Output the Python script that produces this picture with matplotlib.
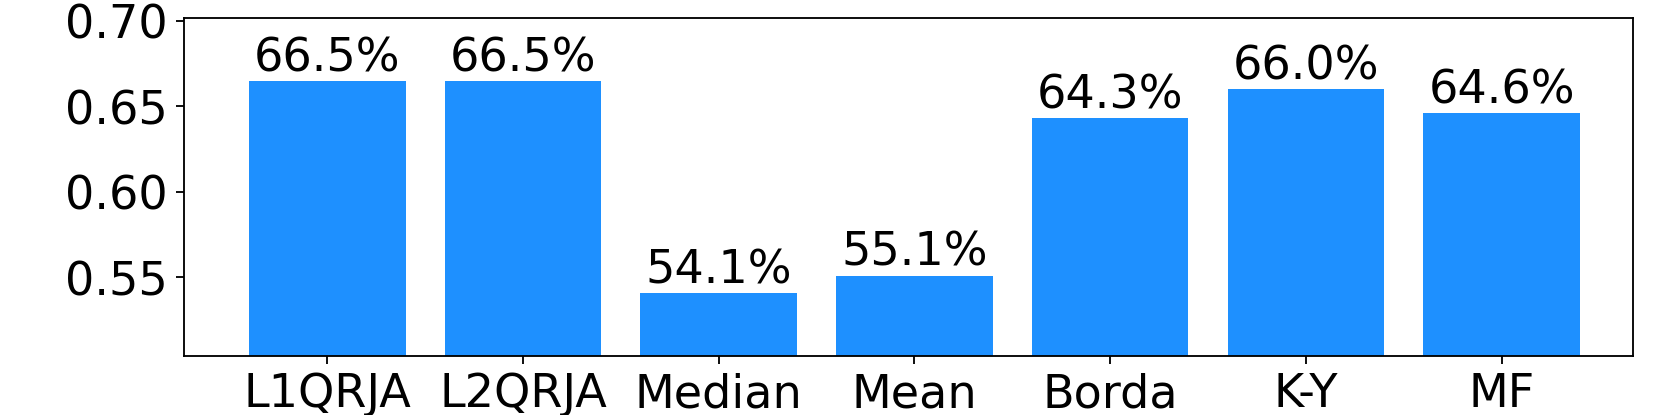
import matplotlib.pyplot as plt
import numpy as np

methods = ["L1QRJA", "L2QRJA", "Median", "Mean", "Borda", "K-Y", "MF"]
acc = [0.665, 0.665, 0.541, 0.551, 0.643, 0.660, 0.646]

fig = plt.figure(figsize=(10, 2.5), dpi=166.1)
ax = fig.add_axes([0.111, 0.142, 0.872, 0.815])
x = np.arange(len(methods))
bars = ax.bar(x, acc, width=0.8, color="dodgerblue")
for b, v in zip(bars, acc):
    ax.text(b.get_x() + b.get_width() / 2, v, "%.1f%%" % (v * 100),
            ha="center", va="bottom", fontsize=20)
ax.set_xticks(x)
ax.set_xticklabels(methods)
ax.set_xlim(-0.73, 6.67)
ax.set_ylim(0.504, 0.702)
ax.set_yticks([0.55, 0.60, 0.65, 0.70])
ax.tick_params(labelsize=20)
plt.savefig("out.png", dpi=166.1)
